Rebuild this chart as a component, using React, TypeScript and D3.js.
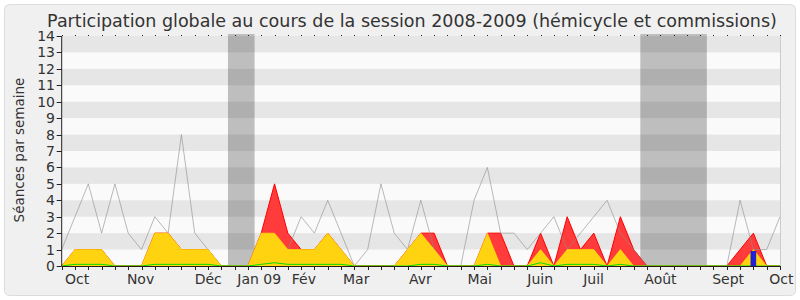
import React from "react";
import * as d3 from "d3";

const title = "Participation globale au cours de la session 2008-2009 (hémicycle et commissions)";
const yLabel = "Séances par semaine";

// weekly series (55 weeks, Oct 2008 -> Oct 2009)
const totalSeances = [1,3,5,2,5,2,1,3,2,8,2,1,0,0,0,0,0,1,3,2,4,2,0,1,5,2,1,4,1,0,0,4,6,2,2,1,2,3,1,2,3,4,2,1,0,0,0,0,0,0,0,4,1,1,3];
const presencesTotal = [0,1,1,1,0,0,0,2,2,1,1,1,0,0,0,2,5,2,1,1,2,1,0,0,0,0,1,2,2,0,0,0,2,2,0,0,2,0,3,1,2,0,3,1,0,0,0,0,0,0,0,1,2,0,0];
const presencesHemicycle = [0,1,1,1,0,0,0,2,2,1,1,1,0,0,0,2,2,1,1,1,2,1,0,0,0,0,1,2,1,0,0,0,2,0,0,0,1,0,1,1,1,0,1,0,0,0,0,0,0,0,0,0,1,0,0];
const interventions = [0,0.1,0.1,0.1,0,0,0,0.1,0.1,0.1,0.1,0.1,0,0,0,0.1,0.2,0.1,0.1,0.1,0.1,0.1,0,0,0,0,0,0.1,0.1,0,0,0,0.1,0,0,0,0.2,0,0.1,0.1,0.1,0,0.1,0,0,0,0,0,0,0,0,0,0,0,0];
const questions = [0,0,0,0,0,0,0,0,0,0,0,0,0,0,0,0,0,0,0,0,0,0,0,0,0,0,0,0,0,0,0,0,0,0,0,0,0,0,0,0,0,0,0,0,0,0,0,0,0,0,0,0,0.9,0,0];

// vacation periods (in week units)
const vacationStart = [12.5, 43.5];
const vacationEnd = [14.5, 48.5];

// month labels and their week position
const monthLabels = ["Oct","Nov","Déc","Jan 09","Fév","Mar","Avr","Mai","Juin","Juil","Août","Sept","Oct"];
const monthPos = [0.25,4.9,10.0,13.2,17.3,21.15,26.1,30.5,35.0,39.2,43.8,48.9,53.2];

const yTicks = d3.range(0, 15);

export default function App() {
  const W = 800, H = 300;
  const x0 = 61.7, x1 = 780, yTop = 36, yBot = 266;
  const nWeeks = totalSeances.length;
  const x = d3.scaleLinear().domain([0, nWeeks - 1]).range([x0, x1]);
  const y = d3.scaleLinear().domain([0, 14]).range([yBot, yTop]);
  const idx = d3.range(nWeeks);

  const area = (vals: number[]) =>
    d3.area<number>().x((i) => x(i)).y0(y(0)).y1((i) => y(vals[i]))(idx) || "";
  const line = (vals: number[]) =>
    d3.line<number>().x((i) => x(i)).y((i) => y(vals[i]))(idx) || "";

  const font = "'DejaVu Sans', sans-serif";
  const barW = 5;

  return (
    <svg width={W} height={H} style={{ position: "absolute", left: 0, top: 0 }} fontFamily={font}>
      <rect x={0} y={0} width={W} height={H} fill="#ffffff" />
      <rect x={4.5} y={4.5} width={791} height={291} rx={5} fill="#f0f0f0" stroke="#dcdcdc" />
      <text x={412} y={27} textAnchor="middle" fontSize={17.5} fill="#333">{title}</text>

      {/* plot background */}
      <rect x={x0} y={yTop} width={x1 - x0} height={yBot - yTop} fill="#fafafa" />
      {vacationStart.map((s, k) => (
        <rect key={"v" + k} x={x(s)} y={yTop - 2} width={x(vacationEnd[k]) - x(s)} height={yBot - yTop + 2} fill="#bebebe" />
      ))}
      {yTicks.filter((t) => t % 2 === 1).map((t) => (
        <rect key={"s" + t} x={x0} y={y(t + 1)} width={x1 - x0} height={y(t) - y(t + 1)} fill="#000" fillOpacity={0.08} />
      ))}

      {/* presences */}
      <path d={area(presencesTotal)} fill="#ff3b3b" stroke="#ff0000" strokeWidth={1} />
      {/* total séances line */}
      <path d={line(totalSeances)} fill="none" stroke="#8c8c8c" strokeOpacity={0.6} strokeWidth={1} />
      <path d={area(presencesHemicycle)} fill="#ffd30f" stroke="#ffff00" strokeOpacity={0.5} strokeWidth={1} />
      <path d={line(interventions)} fill="none" stroke="#00dd00" strokeWidth={1} />
      {questions.map((q, i) =>
        q > 0 ? (
          <rect key={"q" + i} x={x(i) - barW / 2} y={y(q)} width={barW} height={y(0) - y(q)} fill="#2020e0" stroke="#1010a0" strokeWidth={0.5} />
        ) : null
      )}

      {/* right border */}
      <line x1={x1 + 0.5} x2={x1 + 0.5} y1={yTop} y2={yBot} stroke="#cccccc" />

      {/* top dots */}
      {idx.map((i) => (
        <rect key={"d" + i} x={Math.round(x(i))} y={yTop - 1} width={1} height={1} fill="#222" />
      ))}

      {/* y axis */}
      <line x1={x0} x2={x0} y1={yTop} y2={yBot} stroke="#222" />
      {yTicks.map((t) => (
        <g key={"yt" + t}>
          <line x1={x0 - 5} x2={x0} y1={Math.round(y(t)) + 0.5} y2={Math.round(y(t)) + 0.5} stroke="#222" />
          <text x={55} y={y(t) + 5} textAnchor="end" fontSize={14} fill="#333">{t}</text>
        </g>
      ))}
      <text transform={`translate(24,150) rotate(-90)`} textAnchor="middle" fontSize={13.5} fill="#333">{yLabel}</text>

      {/* x axis */}
      <line x1={x0} x2={x1} y1={yBot + 0.5} y2={yBot + 0.5} stroke="#2a1a1a" />
      {idx.map((i) => (
        <line key={"xt" + i} x1={Math.round(x(i)) + 0.5} x2={Math.round(x(i)) + 0.5} y1={yBot} y2={yBot + 4} stroke="#222" />
      ))}
      {monthLabels.map((m, k) => (
        <text key={"m" + k} x={x(monthPos[k])} y={283.5} fontSize={14} fill="#333">{m}</text>
      ))}
    </svg>
  );
}
